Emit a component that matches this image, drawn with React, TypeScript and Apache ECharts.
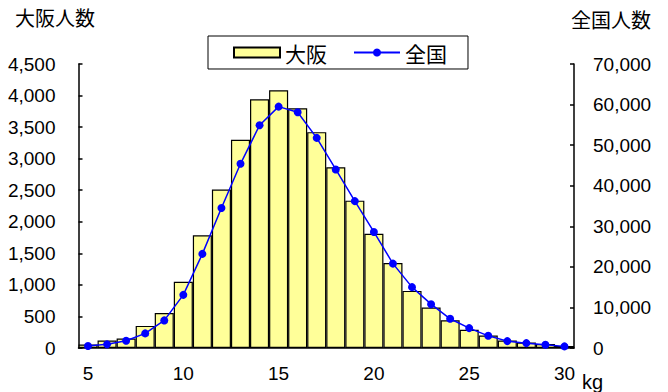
import React, { useEffect, useRef } from "react";
import * as echarts from "echarts";

const categories = ["5","6","7","8","9","10","11","12","13","14","15","16","17","18","19","20","21","22","23","24","25","26","27","28","29","30"];
const osakaValues = [55, 120, 150, 350, 555, 1050, 1785, 2510, 3300, 3940, 4085, 3800, 3420, 2865, 2335, 1810, 1345, 905, 640, 438, 290, 198, 120, 88, 64, 32];
const nationalValues = [500, 900, 1800, 3600, 6800, 13100, 23200, 34500, 45400, 54900, 59500, 58100, 51800, 44000, 36200, 28600, 20800, 15000, 10800, 7200, 4900, 3000, 1700, 1200, 800, 400];
const seriesNames = ["大阪", "全国"];
const axisTitles = ["大阪人数", "全国人数"];
const unitLabel = "kg";

const NUM_FONT = "'Liberation Sans', 'Noto Sans CJK JP', sans-serif";
const CJK_FONT = "'Noto Sans CJK JP', sans-serif";

export default function App() {
  const ref = useRef<HTMLDivElement>(null);
  useEffect(() => {
    document.body.style.margin = "0";
    if (!ref.current) return;
    const chart = echarts.init(ref.current, null, { renderer: "svg" });
    const fmt = (v: number) => v.toLocaleString("en-US");
    chart.setOption({
      animation: false,
      backgroundColor: "#ffffff",
      title: [
        { text: axisTitles[0], left: 15, top: 7, padding: 0, textStyle: { fontFamily: CJK_FONT, fontSize: 20, fontWeight: "normal", color: "#000" } },
        { text: axisTitles[1], right: 17, top: 9, padding: 0, textStyle: { fontFamily: CJK_FONT, fontSize: 20, fontWeight: "normal", color: "#000" } },
      ],
      legend: {
        left: 208,
        top: 36,
        padding: [6, 21, 6, 25],
        itemGap: 26,
        itemWidth: 46,
        itemHeight: 10,
        borderColor: "#000",
        borderWidth: 1,
        borderRadius: 0,
        backgroundColor: "#fff",
        textStyle: { fontFamily: CJK_FONT, fontSize: 21, color: "#000" },
        data: [{ name: seriesNames[0], icon: "rect" }, { name: seriesNames[1] }],
      },
      grid: { left: 78.5, right: 94, top: 64, bottom: 44, containLabel: false },
      xAxis: {
        type: "category",
        data: categories,
        boundaryGap: true,
        axisLine: { lineStyle: { color: "#000", width: 1.5 } },
        axisTick: { show: false },
        axisLabel: {
          interval: (i: number) => i % 5 === 0,
          margin: 16,
          fontFamily: NUM_FONT,
          fontSize: 19,
          color: "#000",
        },
        name: unitLabel,
        nameLocation: "end",
        nameGap: 8,
        nameTextStyle: { fontFamily: NUM_FONT, fontSize: 20, color: "#000", verticalAlign: "top", padding: [24, 0, 0, 0] },
        splitLine: { show: false },
      },
      yAxis: [
        {
          type: "value",
          min: 0,
          max: 4500,
          interval: 500,
          position: "left",
          axisLine: { show: true, lineStyle: { color: "#000", width: 1.5 } },
          axisTick: { show: true, inside: true, length: 4, lineStyle: { color: "#000", width: 1.5 } },
          axisLabel: { margin: 23, fontFamily: NUM_FONT, fontSize: 19, color: "#000", formatter: fmt },
          splitLine: { show: false },
        },
        {
          type: "value",
          min: 0,
          max: 70000,
          interval: 10000,
          position: "right",
          alignTicks: false,
          axisLine: { show: true, lineStyle: { color: "#000", width: 1.5 } },
          axisTick: { show: true, inside: true, length: 4, lineStyle: { color: "#000", width: 1.5 } },
          axisLabel: { margin: 19, fontFamily: NUM_FONT, fontSize: 19, color: "#000", formatter: fmt },
          splitLine: { show: false },
        },
      ],
      series: [
        {
          name: seriesNames[0],
          type: "bar",
          yAxisIndex: 0,
          data: osakaValues,
          barCategoryGap: "0%",
          itemStyle: { color: "#FFFF99", borderColor: "#000", borderWidth: 1.2 },
        },
        {
          name: seriesNames[1],
          type: "line",
          yAxisIndex: 1,
          data: nationalValues,
          symbol: "circle",
          symbolSize: 8,
          lineStyle: { color: "#0000FF", width: 1.5 },
          itemStyle: { color: "#0000FF" },
        },
      ],
    });
    return () => chart.dispose();
  }, []);
  return <div ref={ref} style={{ width: 668, height: 392 }} />;
}
